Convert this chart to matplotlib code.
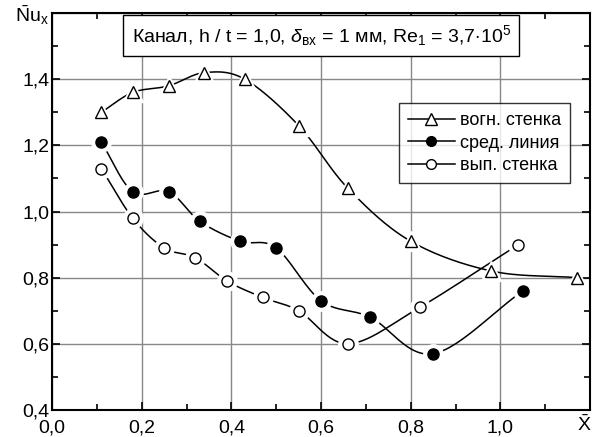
import numpy as np
import matplotlib
matplotlib.use("Agg")
import matplotlib.pyplot as plt
from matplotlib.lines import Line2D
from matplotlib.ticker import MultipleLocator

plt.rcParams['font.family'] = ['Liberation Sans', 'DejaVu Sans']
plt.rcParams['mathtext.fontset'] = 'custom'
plt.rcParams['mathtext.rm'] = 'Liberation Sans'
plt.rcParams['mathtext.it'] = 'Liberation Sans:italic'

# data
x_tri = [0.11, 0.18, 0.26, 0.34, 0.43, 0.55, 0.66, 0.80, 0.98, 1.17]
y_tri = [1.30, 1.36, 1.38, 1.42, 1.40, 1.26, 1.07, 0.91, 0.82, 0.80]
x_mid = [0.11, 0.18, 0.26, 0.33, 0.42, 0.50, 0.60, 0.71, 0.85, 1.05]
y_mid = [1.21, 1.06, 1.06, 0.97, 0.91, 0.89, 0.73, 0.68, 0.57, 0.76]
x_opn = [0.11, 0.18, 0.25, 0.32, 0.39, 0.47, 0.55, 0.66, 0.82, 1.04]
y_opn = [1.13, 0.98, 0.89, 0.86, 0.79, 0.74, 0.70, 0.60, 0.71, 0.90]
labels = ['вогн. стенка', 'сред. линия', 'вып. стенка']

x_ticks = [0.0, 0.2, 0.4, 0.6, 0.8, 1.0, 1.2]
x_tick_labels = ['0,0', '0,2', '0,4', '0,6', '0,8', '1,0', '']
y_ticks = [0.4, 0.6, 0.8, 1.0, 1.2, 1.4, 1.6]
y_tick_labels = ['0,4', '0,6', '0,8', '1,0', '1,2', '1,4', r'$\bar{\rm N}{\rm u}_{\rm x}$']


def smooth(xs, ys, n=30):
    # catmull-rom curve through the points, just for the drawn line
    p = np.column_stack([xs, ys])
    p = np.vstack([2 * p[0] - p[1], p, 2 * p[-1] - p[-2]])
    out = []
    t = np.linspace(0, 1, n)[:, None]
    for i in range(1, len(p) - 2):
        p0, p1, p2, p3 = p[i - 1], p[i], p[i + 1], p[i + 2]
        seg = 0.5 * ((2 * p1) + (-p0 + p2) * t + (2 * p0 - 5 * p1 + 4 * p2 - p3) * t ** 2
                     + (-p0 + 3 * p1 - 3 * p2 + p3) * t ** 3)
        out.append(seg)
    c = np.vstack(out)
    return c[:, 0], c[:, 1]


fig = plt.figure(figsize=(5.94, 4.37), dpi=100)
ax = fig.add_axes([0.0875, 0.062, 0.906, 0.908])

series = [(x_tri, y_tri, '^', 'white', 9),
          (x_mid, y_mid, 'o', 'black', 8),
          (x_opn, y_opn, 'o', 'white', 8)]
for xs, ys, m, fc, ms in series:
    sx, sy = smooth(xs, ys)
    ax.plot(sx, sy, color='black', lw=1.1, zorder=3)
    # white halo to break the line around the markers
    ax.plot(xs, ys, ls='none', marker=m, ms=ms + 6, mfc='white', mec='white', zorder=4)
    ax.plot(xs, ys, ls='none', marker=m, ms=ms, mfc=fc, mec='black', mew=1.0, zorder=5)

ax.set_xlim(0, 1.2)
ax.set_ylim(0.4, 1.6)
ax.set_xticks(x_ticks, x_tick_labels)
ax.set_yticks(y_ticks, y_tick_labels)
ax.xaxis.set_minor_locator(MultipleLocator(0.1))
ax.yaxis.set_minor_locator(MultipleLocator(0.1))

ax.tick_params(which='both', direction='in', top=True, right=True, labelsize=14, width=1.2)
ax.tick_params(which='major', length=6)
ax.tick_params(which='minor', length=4)
ax.tick_params(axis='x', pad=7)
ax.tick_params(axis='y', pad=2)
ax.grid(True, which='major', color='#888888', lw=1.0)
for s in ax.spines.values():
    s.set_linewidth(1.5)

# X-bar sits at the end of the x axis, baseline level with the tick labels
ax.annotate(r'$\bar{\rm X}$', xy=(1.0, 0.0), xycoords='axes fraction',
            xytext=(-4.5, -15.5), textcoords='offset points', ha='center', va='baseline',
            fontsize=14, annotation_clip=False)

ax.text(0.5, 0.943, r'Канал, h / t = 1,0, $\delta_{\rm вх}$ = 1 мм, Re$_1$ = 3,7$\cdot$10$^5$',
        transform=ax.transAxes, ha='center', va='center', fontsize=14,
        bbox=dict(boxstyle='square,pad=0.42', fc='white', ec='black', lw=1.0), zorder=6)

handles = [Line2D([], [], color='black', lw=1.1, marker='^', ms=8, mfc='white', mec='black'),
           Line2D([], [], color='black', lw=1.1, marker='o', ms=7, mfc='black', mec='black'),
           Line2D([], [], color='black', lw=1.1, marker='o', ms=7, mfc='white', mec='black')]
leg = ax.legend(handles, labels, loc='upper right', bbox_to_anchor=(0.963, 0.773),
                fontsize=13, frameon=True, fancybox=False, edgecolor='black',
                handlelength=2.6, handletextpad=0.3, borderpad=0.5, labelspacing=0.3,
                borderaxespad=0)
leg.get_frame().set_linewidth(1.0)
leg.set_zorder(6)

fig.savefig('out.png', dpi=100)
